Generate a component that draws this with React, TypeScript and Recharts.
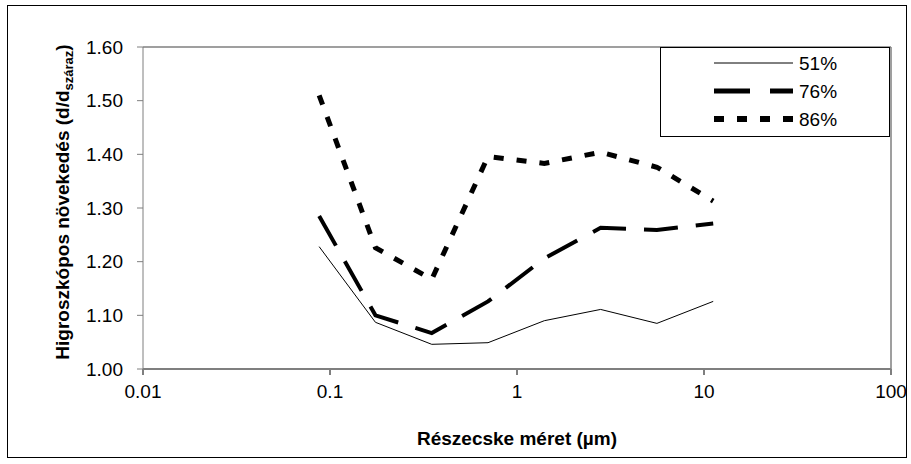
import React from "react";
import { LineChart, Line, XAxis, YAxis, ReferenceLine } from "recharts";

const SIZES = [0.0875, 0.175, 0.35, 0.7, 1.4, 2.8, 5.6, 11.2];
const RH51 = [1.228, 1.087, 1.046, 1.049, 1.09, 1.111, 1.085, 1.126];
const RH76 = [1.285, 1.1, 1.067, 1.126, 1.206, 1.263, 1.259, 1.271];
const RH86 = [1.51, 1.226, 1.167, 1.396, 1.383, 1.404, 1.376, 1.313];

const X_TICKS = [0.01, 0.1, 1, 10, 100];
const Y_TICKS = [1.0, 1.1, 1.2, 1.3, 1.4, 1.5, 1.6];

const SERIES = [
  { key: "rh51", name: "51%", width: 1, dash: undefined },
  { key: "rh76", name: "76%", width: 4, dash: "34 18" },
  { key: "rh86", name: "86%", width: 5, dash: "10 13" },
];

const data = SIZES.map((d, i) => ({
  d,
  rh51: RH51[i],
  rh76: RH76[i],
  rh86: RH86[i],
}));

const FONT = "'Liberation Sans', Arial, sans-serif";

function LegendBox() {
  return (
    <svg
      width={231}
      height={91}
      style={{ position: "absolute", left: 660, top: 47, display: "block" }}
    >
      <rect x={0.5} y={0.5} width={229} height={89} fill="#fff" stroke="#000" />
      {SERIES.map((s, i) => {
        const y = 16 + i * 28;
        return (
          <g key={s.key}>
            <line
              x1={54}
              x2={133}
              y1={y}
              y2={y}
              stroke="#000"
              strokeWidth={s.key === "rh51" ? 1 : s.width + 1}
              strokeDasharray={s.key === "rh76" ? "36 20" : s.dash}
            />
            <text x={139} y={y + 7} fontSize={19} fontFamily={FONT} fill="#000">
              {s.name}
            </text>
          </g>
        );
      })}
    </svg>
  );
}

function YTitle(props: any) {
  const { viewBox } = props;
  const cy = viewBox.y + viewBox.height / 2 - 6;
  const x = 69;
  return (
    <text
      x={x}
      y={cy}
      transform={`rotate(-90 ${x} ${cy})`}
      textAnchor="middle"
      fontFamily={FONT}
      fontWeight="bold"
      fontSize={19}
      fill="#000"
    >
      Higroszkópos növekedés (d/d
      <tspan fontSize={13} dy={4}>száraz</tspan>
      <tspan dy={-4}>)</tspan>
    </text>
  );
}

export default function App() {
  return (
    <div style={{ position: "relative", width: 911, height: 464, background: "#fff" }}>
      <style>{`body{margin:0}`}</style>
      <div
        style={{
          position: "absolute",
          left: 7,
          top: 5,
          width: 900,
          height: 453,
          border: "1px solid #000",
          boxSizing: "border-box",
        }}
      />
      <LineChart
        width={911}
        height={464}
        data={data}
        margin={{ top: 47, right: 20, bottom: 65, left: 0 }}
      >
        <XAxis
          dataKey="d"
          type="number"
          scale="log"
          domain={[0.01, 100]}
          ticks={X_TICKS}
          allowDataOverflow
          tickFormatter={(v: number) => String(v)}
          stroke="#7f7f7f"
          strokeWidth={2}
          tickSize={6}
          height={30}
          tick={{ fill: "#000", fontSize: 19, fontFamily: FONT, dy: 8 }}
          label={{
            value: "Részecske méret (µm)",
            position: "bottom",
            offset: 33,
            fill: "#000",
            fontSize: 19,
            fontWeight: "bold",
            fontFamily: FONT,
          }}
        />
        <YAxis
          type="number"
          domain={[1, 1.6]}
          ticks={Y_TICKS}
          width={143}
          tickFormatter={(v: number) => v.toFixed(2)}
          stroke="#7f7f7f"
          tickSize={6}
          tick={{ fill: "#000", fontSize: 19, fontFamily: FONT, dx: -12 }}
          label={<YTitle />}
        />
        <ReferenceLine y={1.6} stroke="#7f7f7f" strokeWidth={1.5} />
        <ReferenceLine x={100} stroke="#7f7f7f" strokeWidth={1.5} />
        {SERIES.map((s) => (
          <Line
            key={s.key}
            dataKey={s.key}
            name={s.name}
            stroke="#000"
            strokeWidth={s.width}
            strokeDasharray={s.dash}
            dot={false}
            activeDot={false}
            isAnimationActive={false}
            strokeLinejoin="miter"
            strokeLinecap="butt"
          />
        ))}
      </LineChart>
      <LegendBox />
    </div>
  );
}
